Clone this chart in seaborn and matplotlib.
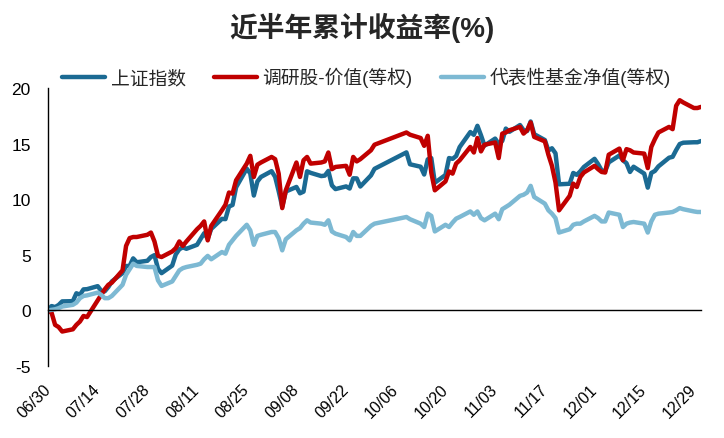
import numpy as np
import pandas as pd
import matplotlib
matplotlib.use("Agg")
import matplotlib.pyplot as plt
import seaborn as sns

sns.set_style("white")
plt.rcParams["font.family"] = ["Liberation Sans", "Noto Sans CJK SC"]
plt.rcParams["axes.unicode_minus"] = False

# ---------------- data ----------------
title = "近半年累计收益率(%)"
series_names = ["上证指数", "调研股-价值(等权)", "代表性基金净值(等权)"]
colors = ["#1B6A93", "#C00000", "#7DB9D3"]

holidays = ["2025-10-01", "2025-10-02", "2025-10-03",
            "2025-10-06", "2025-10-07", "2025-10-08"]
dates = pd.bdate_range("2025-06-30", "2025-12-31").difference(pd.to_datetime(holidays))

sh_jun = [0.00]
sh_jul = [0.39, 0.30, 0.49, 0.81, 0.83, 1.54, 1.41, 1.89, 1.91, 2.18, 1.76, 1.72,
          2.10, 2.61, 3.35, 3.99, 4.00, 4.68, 4.33, 4.46, 4.80, 4.97, 3.74]
sh_aug = [3.35, 4.03, 5.03, 5.50, 5.67, 5.54, 5.90, 6.43, 6.94, 6.45, 7.33, 8.23,
          8.21, 9.34, 9.48, 11.07, 12.75, 12.31, 10.33, 11.59, 12.00]
sh_sep = [12.52, 12.01, 10.72, 9.33, 10.69, 11.10, 10.53, 10.68, 12.51, 12.37, 12.08,
          12.12, 12.54, 11.24, 10.91, 11.15, 10.96, 11.88, 11.87, 11.14, 12.14, 12.73]
sh_oct = [14.21, 13.14, 12.92, 12.22, 13.58, 13.70, 11.48, 12.18, 13.70, 13.63, 13.88,
          14.69, 16.04, 15.79, 16.60, 15.75, 14.82]
sh_nov = [15.45, 14.97, 15.24, 16.35, 16.06, 16.67, 16.21, 16.13, 16.99, 15.85, 15.32,
          14.38, 14.58, 14.13, 11.34, 11.39, 12.36, 12.19, 12.51, 12.90]
sh_dec = [13.63, 13.16, 12.59, 12.52, 13.31, 13.93, 13.50, 13.24, 12.45, 12.92, 12.30,
          11.04, 12.36, 12.54, 12.95, 13.73, 13.81, 14.42, 14.96, 15.08, 15.12, 15.12, 15.23]

val_jun = [0.0]
val_jul = [-0.2, -1.3, -1.5, -1.9, -1.7, -1.3, -1.0, -0.5, -0.6, 0.9, 1.4, 1.9, 2.3,
           2.5, 3.6, 5.8, 6.5, 6.6, 6.6, 6.8, 7.0, 6.2, 4.9]
val_aug = [4.8, 5.3, 5.6, 6.2, 5.8, 6.2, 7.3, 7.6, 8.0, 6.3, 7.6, 9.0, 9.5, 10.6,
           10.5, 11.7, 13.2, 13.9, 12.0, 13.1, 13.3]
val_sep = [13.8, 13.6, 12.3, 9.2, 10.8, 13.3, 12.0, 13.5, 13.8, 13.2, 13.3, 13.4, 14.2,
           12.7, 12.9, 13.0, 12.2, 13.8, 13.4, 13.6, 14.4, 14.9]
val_oct = [16.0, 15.8, 15.5, 14.8, 15.7, 12.4, 10.8, 11.6, 12.5, 12.3, 13.2, 13.5, 14.7,
           14.2, 15.5, 14.3, 14.9]
val_nov = [15.1, 13.7, 15.9, 16.0, 16.2, 16.5, 15.9, 16.2, 16.9, 15.6, 15.2, 14.0, 13.0,
           11.5, 9.0, 10.3, 11.4, 11.1, 12.0, 12.4]
val_dec = [13.0, 12.7, 12.45, 12.4, 14.0, 14.55, 13.5, 14.5, 14.4, 14.2, 14.1, 12.8, 14.7,
           15.4, 16.0, 16.5, 16.3, 18.4, 18.9, 18.7, 18.2, 18.2, 18.3]

fund_jun = [0.0]
fund_jul = [0.05, 0.1, 0.2, 0.35, 0.5, 0.7, 1.1, 1.3, 1.35, 1.6, 1.4, 1.1, 1.1, 1.3,
            2.3, 3.2, 3.7, 4.2, 4.0, 3.9, 3.9, 3.9, 2.7]
fund_aug = [2.2, 2.6, 3.1, 3.6, 3.8, 3.9, 4.1, 4.2, 4.6, 4.9, 4.6, 5.25, 5.1, 5.9, 6.3,
            6.7, 7.7, 7.2, 5.9, 6.7, 6.8]
fund_sep = [7.05, 7.05, 6.5, 5.4, 6.4, 7.2, 7.4, 7.8, 8.1, 7.9, 7.8, 7.7, 8.1, 7.1, 6.9,
            6.6, 6.3, 7.05, 6.7, 6.7, 7.6, 7.8]
fund_oct = [8.4, 8.2, 7.8, 7.5, 8.7, 8.5, 7.1, 7.7, 7.5, 7.9, 8.25, 8.4, 8.9, 8.6, 8.9,
            8.3, 8.1]
fund_nov = [8.7, 8.2, 9.1, 9.3, 9.5, 10.3, 10.4, 10.6, 11.2, 10.2, 9.6, 9.0, 8.7, 8.3,
            7.0, 7.3, 7.7, 7.8, 7.8, 8.0]
fund_dec = [8.5, 8.3, 8.0, 8.0, 8.8, 8.6, 7.5, 7.8, 7.9, 7.95, 7.8, 7.0, 8.0, 8.6, 8.7,
            8.8, 8.85, 9.0, 9.2, 9.1, 8.9, 8.85, 8.85]

y_ticks = [-5, 0, 5, 10, 15, 20]

sh_index = sh_jun + sh_jul + sh_aug + sh_sep + sh_oct + sh_nov + sh_dec
value_stocks = val_jun + val_jul + val_aug + val_sep + val_oct + val_nov + val_dec
fund_nav = fund_jun + fund_jul + fund_aug + fund_sep + fund_oct + fund_nov + fund_dec

df = pd.DataFrame({
    "date": list(dates) * 3,
    "value": sh_index + value_stocks + fund_nav,
    "series": np.repeat(series_names, len(dates)),
})

# ---------------- figure ----------------
W, H = 724, 439
fig = plt.figure(figsize=(W / 100, H / 100), dpi=100)
ax = fig.add_axes([48 / W, (H - 367) / H, (701 - 48) / W, (367 - 89) / H])

sns.lineplot(data=df, x="date", y="value", hue="series", hue_order=series_names,
             palette=colors, linewidth=3.2, ax=ax, legend=False)

ax.set_xlim(dates[0], dates[-1])
ax.set_ylim(-5, 20)
ax.set_yticks(y_ticks)
ax.set_xlabel("")
ax.set_ylabel("")

xt = pd.date_range("2025-06-30", "2025-12-31", freq="14D")
ax.set_xticks(xt)
ax.set_xticklabels([d.strftime("%m/%d") for d in xt])

for s in ["top", "right"]:
    ax.spines[s].set_visible(False)
ax.spines["bottom"].set_position(("data", 0))
for s in ["left", "bottom"]:
    ax.spines[s].set_color("black")
    ax.spines[s].set_linewidth(1.0)

ax.tick_params(axis="y", direction="out", length=4.5, width=1, pad=8,
               labelsize=12.5, colors="black")
ax.tick_params(axis="x", direction="out", length=5, width=1, pad=50,
               labelsize=11.5, colors="black")
ax.grid(False)
for lab in ax.get_xticklabels():
    lab.set_rotation(45)
    lab.set_horizontalalignment("right")
    lab.set_verticalalignment("center")
    lab.set_rotation_mode("anchor")

handles = ax.get_lines()[:3]
fig.legend(handles, series_names, loc="center left",
           bbox_to_anchor=(62 / W, (H - 78) / H), ncol=3, frameon=False,
           fontsize=13.5, handlelength=2.3, handletextpad=0.3,
           columnspacing=1.5, borderpad=0, borderaxespad=0)

fig.text(0.5, (H - 28) / H, title, ha="center", va="center",
         fontsize=20, fontweight="bold")

fig.savefig("out.png", dpi=100)
